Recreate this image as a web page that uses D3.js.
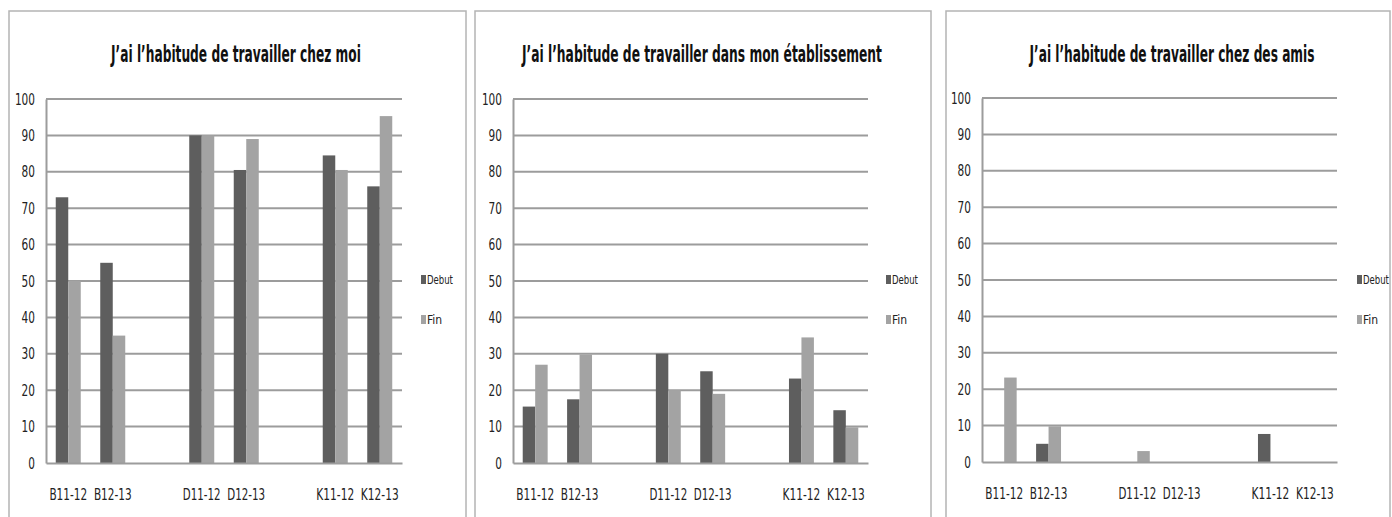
<!DOCTYPE html>
<html>
<head>
<meta charset="utf-8">
<script src="https://cdn.jsdelivr.net/npm/d3@7"></script>
<style>
  body { margin: 0; background: white; }
  text { font-family: "DejaVu Sans Condensed", "DejaVu Sans", sans-serif; fill: #222; }
</style>
</head>
<body>
<svg id="vis"></svg>
<script>
// categories (blank slots separate the groups)
const categories = ['B11-12', 'B12-13', '', 'D11-12', 'D12-13', '', 'K11-12', 'K12-13']
const series = ['Debut', 'Fin']
const yTicks = [0, 10, 20, 30, 40, 50, 60, 70, 80, 90, 100]

// values per panel, null for the blank slots
const debutMoi = [73, 55, null, 90, 80.5, null, 84.5, 76]
const finMoi = [50, 35, null, 90, 89, null, 80.5, 95.3]
const debutEtab = [15.5, 17.5, null, 30, 25.2, null, 23.2, 14.5]
const finEtab = [27, 29.8, null, 20, 19, null, 34.5, 9.8]
const debutAmis = [0, 5, null, 0, 0, null, 7.7, 0]
const finAmis = [23.2, 9.8, null, 3, 0, null, 0, 0]

const titles = [
  'J\u2019ai l\u2019habitude de travailler chez moi',
  'J\u2019ai l\u2019habitude de travailler dans mon \u00e9tablissement',
  'J\u2019ai l\u2019habitude de travailler chez des amis'
]

const COLORS = {Debut: '#5e5e5e', Fin: '#a3a3a3'}

var svg = d3.select('#vis')
    .attr('width', 1392)
    .attr('height', 517)

// squeeze a text horizontally so it is `perChar` px per character wide (narrow look of the original)
function squeeze(sel, perChar) {
    sel.each(function() {
        var t = d3.select(this)
        var w = this.getComputedTextLength()
        var n = t.text().length
        if (!w || !n) return
        var sx = Math.min(1, perChar * n / w)
        var x = +t.attr('x') || 0
        t.attr('x', x / sx).attr('transform', `scale(${sx},1)`)
    })
}

// one panel: frame, title, grid, bars, axes, legend
function drawPanel(p) {
    var g = svg.append('g')

    // frame
    g.append('rect')
        .attr('x', p.frame[0])
        .attr('y', 11)
        .attr('width', p.frame[1] - p.frame[0])
        .attr('height', 520)
        .attr('fill', 'white')
        .attr('stroke', '#b4b4b4')
        .attr('stroke-width', 1.5)

    // title
    var title = g.append('text')
        .attr('x', p.titleX)
        .attr('y', 62)
        .attr('text-anchor', 'middle')
        .attr('font-size', 23)
        .attr('font-weight', 'bold')
        .style('fill', '#111')
        .text(p.title)
    squeeze(title, p.titleW / p.title.length)

    var y = d3.scaleLinear().domain([0, 100]).range([p.y0, p.y100])
    var x0 = d3.scaleBand().domain(d3.range(categories.length)).range([p.left, p.right])
    var x1 = d3.scaleBand().domain(series).range([0, x0.bandwidth()]).paddingOuter(0.78)

    // gridlines
    g.append('g').selectAll('line')
        .data(yTicks.filter(d => d > 0))
        .join('line')
        .attr('x1', p.left)
        .attr('x2', p.right)
        .attr('y1', d => y(d))
        .attr('y2', d => y(d))
        .attr('stroke', '#9c9c9c')
        .attr('stroke-width', 2)

    // bars
    var rows = []
    categories.forEach((c, i) => {
        if (p.debut[i] !== null) rows.push({i: i, s: 'Debut', v: p.debut[i]})
        if (p.fin[i] !== null) rows.push({i: i, s: 'Fin', v: p.fin[i]})
    })
    g.append('g').selectAll('rect')
        .data(rows.filter(d => d.v > 0))
        .join('rect')
        .attr('x', d => x0(d.i) + x1(d.s))
        .attr('y', d => y(d.v))
        .attr('width', x1.bandwidth())
        .attr('height', d => y(0) - y(d.v))
        .attr('fill', d => COLORS[d.s])

    // y axis
    var ya = g.append('g')
        .attr('transform', `translate(${p.left},0)`)
        .call(d3.axisLeft(y).tickValues(yTicks).tickSize(0).tickPadding(11))
    ya.select('.domain').attr('stroke', '#9c9c9c').attr('stroke-width', 2)
    ya.selectAll('text').attr('font-size', 16).attr('font-family', null).attr('fill', '#1a1a1a')
        .call(squeeze, 6.7)

    // x axis
    var xa = g.append('g')
        .attr('transform', `translate(0,${p.y0})`)
        .call(d3.axisBottom(x0).tickFormat(i => categories[i]).tickSize(0).tickPadding(25))
    xa.select('.domain').attr('stroke', '#9c9c9c').attr('stroke-width', 2)
    xa.selectAll('text').attr('font-size', 16).attr('font-family', null).attr('fill', '#1a1a1a')
        .attr('dy', '0.72em')
        .call(squeeze, 6.3)

    // legend
    var lg = g.append('g').selectAll('g')
        .data(series)
        .join('g')
        .attr('transform', (d, i) => `translate(${p.legendX},${280 + i * 40})`)
    lg.append('rect')
        .attr('x', 0)
        .attr('y', -5)
        .attr('width', 5)
        .attr('height', 9)
        .attr('fill', d => COLORS[d])
    lg.append('text')
        .attr('x', 6)
        .attr('y', 4)
        .attr('font-size', 12)
        .text(d => d)
        .call(squeeze, 5.2)
}

drawPanel({frame: [9, 466], title: titles[0], titleX: 236, titleW: 250,
    left: 46, right: 402, y0: 463, y100: 99, legendX: 421,
    debut: debutMoi, fin: finMoi})
drawPanel({frame: [475, 931], title: titles[1], titleX: 702, titleW: 360,
    left: 513, right: 868, y0: 463, y100: 99, legendX: 886,
    debut: debutEtab, fin: finEtab})
drawPanel({frame: [946, 1390], title: titles[2], titleX: 1172, titleW: 285,
    left: 982, right: 1337, y0: 462, y100: 98, legendX: 1357,
    debut: debutAmis, fin: finAmis})
</script>
</body>
</html>
